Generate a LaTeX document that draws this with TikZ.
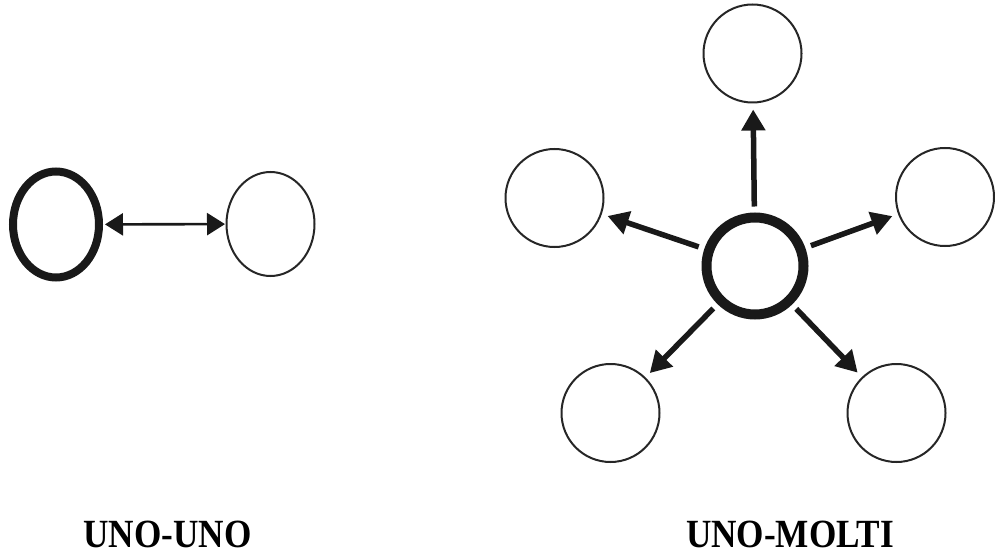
\documentclass[tikz,border=0pt]{standalone}
\usepackage{fontspec}
\setmainfont{Liberation Serif}
\usetikzlibrary{shapes.geometric,arrows.meta}
\begin{document}
\begin{tikzpicture}[x=1pt,y=-1pt,
  entity/.style={ellipse,draw=black!85,line width=2pt,inner sep=0pt,
                 minimum width=98pt,minimum height=98pt},
  owner/.style={ellipse,draw=black!90,inner sep=0pt},
  link/.style={draw=black!90,line width=5.5pt,
               -{Triangle[length=21pt,width=23pt]},
               shorten <=6pt,shorten >=6pt},
  pairlink/.style={draw=black!90,line width=2.6pt,
               {Triangle[length=18pt,width=22pt]}-{Triangle[length=18pt,width=22pt]},
               shorten <=2pt,shorten >=0.5pt},
  caption/.style={anchor=base,inner sep=0pt,font=\bfseries\fontsize{40pt}{40pt}\selectfont}
]
\useasboundingbox (0,0) rectangle (995,556);

% one-to-one relation
\node[owner,line width=8pt,minimum width=86pt,minimum height=106pt] (a) at (56,224.5) {};
\node[entity,minimum width=88pt,minimum height=104pt] (b) at (270.5,224) {};
\draw[pairlink] (a) -- (b);

% one-to-many relation
\node[owner,line width=10pt,minimum width=97pt,minimum height=97pt] (c) at (755,266) {};
\node[entity] (n1) at (752.5,53.5) {};
\node[entity] (n2) at (554.5,198) {};
\node[entity] (n3) at (945,197) {};
\node[entity] (n4) at (610.5,413) {};
\node[entity] (n5) at (896.5,413) {};
\draw[link] (c) -- (n1);
\draw[link] (c) -- (n2);
\draw[link] (c) -- (n3);
\draw[link] (c) -- (n4);
\draw[link] (c) -- (n5);

% captions
\node[caption] (t1) at (167.5,547) {\scalebox{0.88}[1]{UNO-UNO}};
\node[caption] (t2) at (790,547) {\scalebox{0.88}[1]{UNO-MOLTI}};
\end{tikzpicture}
\end{document}
